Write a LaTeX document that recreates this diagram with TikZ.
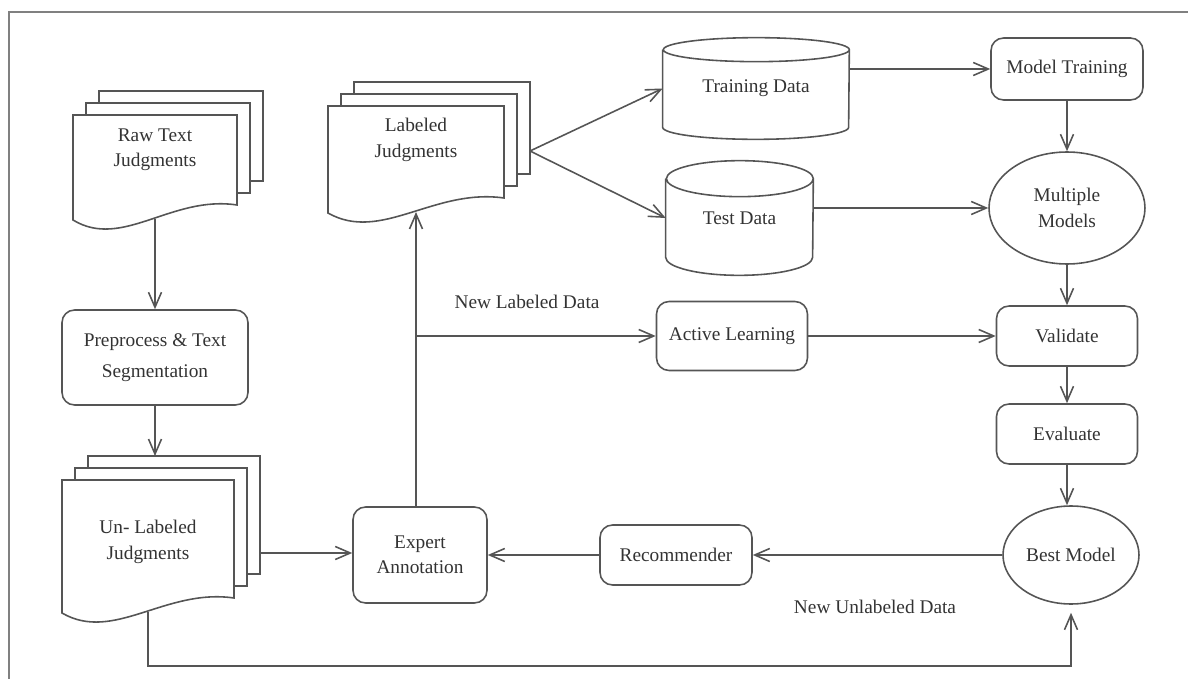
\documentclass[tikz,border=0pt]{standalone}
\usepackage{fontspec}
\setmainfont{Liberation Serif}
\usetikzlibrary{positioning,arrows.meta,shapes.geometric}
\definecolor{linegray}{HTML}{555555}
\definecolor{inkgray}{HTML}{333333}
\definecolor{framegray}{HTML}{808080}
\newcommand{\diagfont}{\fontsize{11}{14.5}\selectfont}
\tikzstyle{tips}=[%
	 btip/.tip = {Straight Barb[length=3mm, width=2.6mm]}]
% stacked documents: name, left, top, width, height, text y, text
\newcommand{\multidoc}[7]{%
	\foreach \k in {2,1}
		\draw[sheet] ({#2+13*\k},{#3-12*\k}) rectangle ({#2+#4+13*\k},{#3+#5-15-12*\k});
	\draw[sheet] (#2,#3) -- ({#2+#4},#3) -- ({#2+#4},{#3+#5-15})
		.. controls ({#2+0.6*#4},{#3+#5-25}) and ({#2+0.3*#4},{#3+#5+30}) .. (#2,{#3+#5}) -- cycle;
	\node[doctext] (#1) at ({#2+#4/2},#6) {#7};
	\coordinate (#1-top) at ({#2+#4/2},{#3-24});
	\coordinate (#1-foot) at ({#2+#4/2},{#3+#5-1});
	\coordinate (#1-out) at ({#2+#4+26},{#6+11});
}
% database outline round a node: name, x radius, y radius
\newcommand{\database}[3]{%
	\draw[line] ([yshift=-#3]#1.north west) -- ([yshift=#3]#1.south west)
		arc[start angle=180, end angle=360, x radius=#2, y radius=#3]
		-- ([yshift=-#3]#1.north east)
		arc[start angle=0, end angle=360, x radius=#2, y radius=#3];
}
\begin{document}
\begin{tikzpicture}[tips, x=0.02cm, y=-0.02cm]
			\tikzstyle{line}=[draw=linegray, line width=0.9pt]
			\tikzstyle{sheet}=[line, fill=white]
			\tikzstyle{doctext}=[text=inkgray, font=\diagfont, align=center, inner sep=0pt]
			\tikzstyle{box}=[line, rounded corners=2.5mm, text=inkgray, font=\diagfont, align=center, inner sep=0pt]
			\tikzstyle{ell}=[line, ellipse, text=inkgray, font=\diagfont, align=center, inner sep=0pt]
			\tikzstyle{db}=[text=inkgray, font=\diagfont, inner sep=0pt]
			\tikzstyle{lbl}=[text=inkgray, font=\diagfont]
			\tikzstyle{arr}=[line, -btip]
			\useasboundingbox (0,0) rectangle (1188,679);
			\draw[draw=framegray, line width=1pt] (9,679) -- (9,12) -- (1188,12);
			% documents
			\multidoc{raw}{73}{115}{164}{105}{150}{Raw Text\\Judgments}
			\multidoc{lab}{328}{106}{176}{107}{140}{Labeled\\Judgments}
			\multidoc{unlab}{62}{480}{172}{133}{542}{Un- Labeled\\Judgments}
			% process boxes
			\node[box, minimum width=3.72cm, minimum height=1.9cm] (prep) at (155,357.5) {Preprocess \& Text\\[3pt]Segmentation};
			\node[box, minimum width=2.68cm, minimum height=1.92cm] (expert) at (420,555) {Expert\\Annotation};
			\node[box, minimum width=3.04cm, minimum height=1.2cm] (rec) at (676,555) {Recommender};
			\node[box, minimum width=3.02cm, minimum height=1.38cm] (active) at (732,336) {Active Learning};
			\node[box, minimum width=3.04cm, minimum height=1.24cm] (mtrain) at (1067,69) {Model Training};
			\node[ell, minimum width=3.12cm, minimum height=2.24cm] (multi) at (1067,208) {Multiple\\Models};
			\node[box, minimum width=2.82cm, minimum height=1.2cm] (valid) at (1067,336) {Validate};
			\node[box, minimum width=2.82cm, minimum height=1.2cm] (eval) at (1067,434) {Evaluate};
			\node[ell, minimum width=2.72cm, minimum height=1.96cm] (best) at (1071,555) {Best Model};
			% data stores
			\node[db, minimum width=3.72cm, minimum height=2.02cm] (train) at (756,88.5) {Training Data};
			\node[db, minimum width=2.94cm, minimum height=2.28cm] (test) at (739.5,218) {Test Data};
			\database{train}{1.86cm}{0.24cm}
			\database{test}{1.47cm}{0.36cm}
			% edge labels
			\node[lbl] (newlab) at (527,302) {New Labeled Data};
			\node[lbl] (newunlab) at (875,607) {New Unlabeled Data};
			\coordinate (loop) at (0,666);
			% connectors
			\draw[arr] (raw-foot) -- (raw-foot |- prep.north);
			\draw[arr] (prep) -- (prep |- unlab-top);
			\draw[arr] (unlab-out) -- (unlab-out -| expert.west);
			\draw[arr] (expert.north -| lab-foot) -- (lab-foot);
			\draw[arr] (lab-foot |- active) -- (active);
			\draw[arr] (lab-out) -- (train.west);
			\draw[arr] (lab-out) -- (test.west);
			\draw[arr] (train.east |- mtrain) -- (mtrain);
			\draw[arr] (test.east |- multi) -- (multi);
			\draw[arr] (mtrain) -- (multi);
			\draw[arr] (multi) -- (valid);
			\draw[arr] (active) -- (valid);
			\draw[arr] (valid) -- (eval);
			\draw[arr] (eval) -- (eval |- best.north);
			\draw[arr] (best) -- (rec);
			\draw[arr] (rec) -- (expert);
			\draw[arr, shorten >=0.16cm] (unlab-foot) |- (best.south |- loop) -- (best.south);
		\end{tikzpicture}
\end{document}
